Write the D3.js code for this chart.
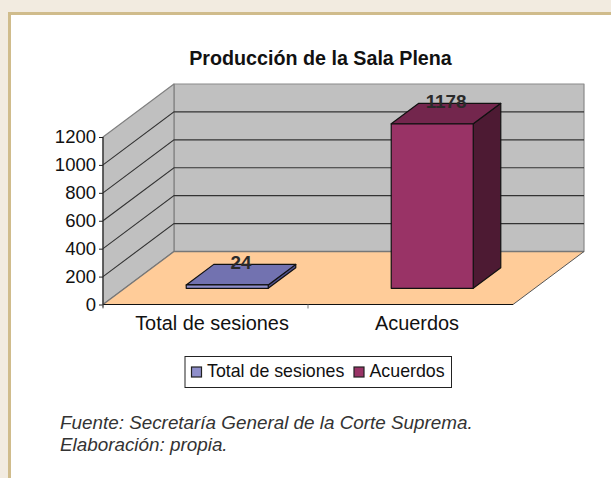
<!DOCTYPE html>
<html><head><meta charset="utf-8">
<script src="https://cdnjs.cloudflare.com/ajax/libs/d3/7.8.5/d3.min.js"></script>
<style>html,body{margin:0;padding:0;background:#f2ebe0;overflow:hidden}svg{display:block}text{font-family:"Liberation Sans",Arial,sans-serif}</style>
</head><body><svg id="c" width="611" height="478"></svg>
<script>
const categories = ["Total de sesiones", "Acuerdos"];
const values = [24, 1178];
const tickValues = [0, 200, 400, 600, 800, 1000, 1200];
const frontColors = ["#8f8fcb", "#993366"];
const topColors = ["#7272b0", "#73264d"];
const sideColors = ["#50508c", "#4d1a33"];
const titleText = "Producción de la Sala Plena";
const noteLines = ["Fuente: Secretaría General de la Corte Suprema.", "Elaboración: propia."];

const svg = d3.select("#c");
svg.append("rect").attr("x", 9.5).attr("y", 13.5).attr("width", 640).attr("height", 500)
  .attr("fill", "#fff").attr("stroke", "#d0bc8c").attr("stroke-width", 3);

const x = d3.scaleBand().domain(categories).range([103, 513]);
const y = d3.scaleLinear().domain([0, 1200]).range([304.5, 137]);
const depthX = d3.scaleLinear().domain([0, 1]).range([0, 71]);
const depthY = d3.scaleLinear().domain([0, 1]).range([0, -53]);
const barW = 82, z0 = 0.306, z1 = 0.694;
const P = (px, py, z) => [px + depthX(z), py + depthY(z)];
const line = d3.line();
const x0 = x.range()[0], x1 = x.range()[1];
const poly = (pts, fill, stroke, sw) => svg.append("path").attr("d", line(pts) + "Z").attr("fill", fill)
  .attr("stroke", stroke).attr("stroke-width", sw).attr("stroke-linejoin", "round");

// back wall, side wall, floor
poly([P(x0, y(0), 1), P(x1, y(0), 1), P(x1, y(1200), 1), P(x0, y(1200), 1)], "#c0c0c0", "#8a8a8a", 1.2);
poly([P(x0, y(0), 0), P(x0, y(0), 1), P(x0, y(1200), 1), P(x0, y(1200), 0)], "#c0c0c0", "#808080", 1.2);
// gridlines
tickValues.slice(1, -1).forEach(t => {
  svg.append("path").attr("d", line([P(x0, y(t), 0), P(x0, y(t), 1), P(x1, y(t), 1)]))
    .attr("fill", "none").attr("stroke", "#333").attr("stroke-width", 1.1);
});
poly([P(x0, y(0), 0), P(x1, y(0), 0), P(x1, y(0), 1), P(x0, y(0), 1)], "#ffcc99", "none", 0);
svg.append("path").attr("d", line([P(x0, y(0), 0), P(x0, y(0), 1), P(x1, y(0), 1)])).attr("fill", "none").attr("stroke", "#777").attr("stroke-width", 1.3);
svg.append("path").attr("d", line([P(x1, y(0), 1), P(x1, y(0), 0)])).attr("fill", "none").attr("stroke", "#555").attr("stroke-width", 1);

// value axis
svg.append("path").attr("d", line([[x0, y(1200)], [x0, y(0) + 3]])).attr("stroke", "#222").attr("stroke-width", 1.1).attr("fill", "none");
svg.append("path").attr("d", line([[x0, y(0)], [x1, y(0)]])).attr("stroke", "#111").attr("stroke-width", 1.1).attr("fill", "none");
const yAxis = d3.axisLeft(y).tickValues(tickValues).tickSize(4).tickPadding(3).tickFormat(d3.format("d"));
const gy = svg.append("g").attr("transform", `translate(${x0},0)`).call(yAxis);
gy.select(".domain").remove();
gy.selectAll("line").attr("stroke", "#222");
gy.selectAll("text").attr("font-size", 18.5).attr("fill", "#111").attr("dy", "0.3em").style("font-family", '"Liberation Sans"');

// category ticks and labels
[x0, x0 + x.bandwidth()].forEach(t => svg.append("line").attr("x1", t).attr("x2", t).attr("y1", y(0)).attr("y2", y(0) + 4).attr("stroke", "#777"));
categories.forEach(c => svg.append("text").attr("x", x(c) + x.bandwidth() / 2 + 6.5).attr("y", 329.5)
  .attr("text-anchor", "middle").attr("font-size", 19.9).attr("fill", "#111").text(c));

// bars
categories.forEach((c, i) => {
  const l = x(c) + (x.bandwidth() - barW) / 2, r = l + barW, b = y(0), t = y(values[i]);
  poly([P(r, b, z0), P(r, b, z1), P(r, t, z1), P(r, t, z0)], sideColors[i], "#111", 1.2);
  poly([P(l, t, z0), P(r, t, z0), P(r, t, z1), P(l, t, z1)], topColors[i], "#111", 1.2);
  poly([P(l, b, z0), P(r, b, z0), P(r, t, z0), P(l, t, z0)], frontColors[i], "#111", 1.2);
  const mid = P((l + r) / 2, t, (z0 + z1) / 2), back = P(l, t, z1);
  svg.append("text").attr("x", mid[0]).attr("y", back[1] + 5).attr("text-anchor", "middle")
    .attr("font-size", 18.8).attr("font-weight", "bold").attr("fill", "#2a2a2a").text(values[i]);
});

// title
svg.append("text").attr("x", 320.5).attr("y", 64.5).attr("text-anchor", "middle").attr("font-size", 19.7)
  .attr("font-weight", "bold").attr("fill", "#111").text(titleText);

// legend
svg.append("rect").attr("x", 185).attr("y", 356.5).attr("width", 266.5).attr("height", 31)
  .attr("fill", "#fff").attr("stroke", "#222").attr("stroke-width", 1);
const legendX = [191.5, 354];
categories.forEach((c, i) => {
  svg.append("rect").attr("x", legendX[i]).attr("y", 367).attr("width", 10).attr("height", 10)
    .attr("fill", frontColors[i]).attr("stroke", "#222").attr("stroke-width", 1.2);
  svg.append("text").attr("x", legendX[i] + 15.5).attr("y", 377).attr("font-size", 17.8).attr("fill", "#111").text(c);
});

// note
noteLines.forEach((s, i) => svg.append("text").attr("x", 60).attr("y", 428.5 + i * 22)
  .attr("font-size", 18.85).attr("font-style", "italic").attr("fill", "#333").text(s));
</script></body></html>
